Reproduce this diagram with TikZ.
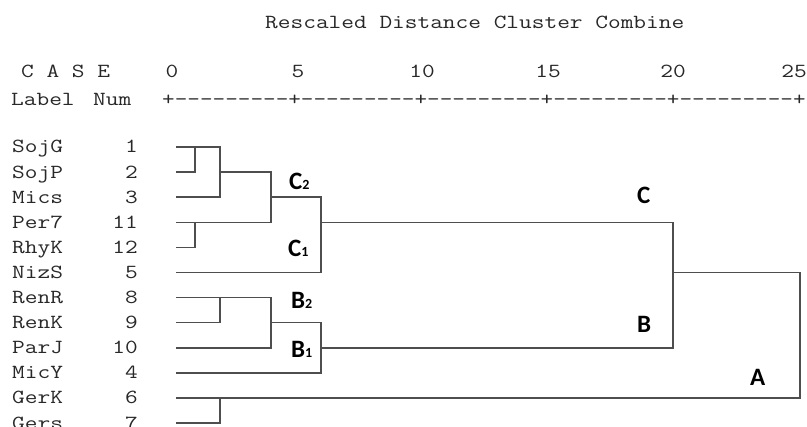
\documentclass[tikz,border=0pt]{standalone}
\usepackage{fontspec}
\usepackage{graphicx}
\newfontfamily\labf{Carlito}
\definecolor{linegray}{RGB}{78,78,78}
\definecolor{txtgray}{RGB}{40,40,40}
\newcommand\mt[1]{\scalebox{1.233}[1]{#1}}
\newcommand\mta[1]{\scalebox{1.225}[1]{#1}}
\newcommand\sbs[1]{{\fontsize{14}{15}\selectfont #1}}
\tikzset{
  mono/.style={font=\ttfamily\fontsize{20}{22}\selectfont, text=txtgray, inner sep=0pt},
  lbl/.style={mono, anchor=base west},
  numlbl/.style={mono, anchor=base east},
  ticklbl/.style={mono, anchor=base},
  clus/.style={font=\labf\bfseries\fontsize{25}{28}\selectfont, text=black, anchor=base west, inner sep=0pt},
  tree/.style={draw=linegray, line width=1.5pt, line cap=rect}
}
\begin{document}
\begin{tikzpicture}[x=1pt,y=-1pt]
\useasboundingbox[fill=white] (0,0) rectangle (807,427);
% header
\node[lbl] (title) at (265,29) {\mt{Rescaled Distance Cluster Combine}};
\node[lbl] (case) at (21,78) {\mt{C A S E}};
\node[lbl] (label) at (11,106) {\mt{Label}};
\node[lbl] (num) at (93,106) {\mt{Num}};
\node[lbl] (axis) at (162,106) {\mta{+{-}{-}{-}{-}{-}{-}{-}{-}{-}+{-}{-}{-}{-}{-}{-}{-}{-}{-}+{-}{-}{-}{-}{-}{-}{-}{-}{-}+{-}{-}{-}{-}{-}{-}{-}{-}{-}+{-}{-}{-}{-}{-}{-}{-}{-}{-}+}};
\node[ticklbl] (t0) at (172,78) {\mt{0}};
\node[ticklbl] (t5) at (298,78) {\mt{5}};
\node[ticklbl] (t10) at (422,78) {\mt{10}};
\node[ticklbl] (t15) at (548,78) {\mt{15}};
\node[ticklbl] (t20) at (673,78) {\mt{20}};
\node[ticklbl] (t25) at (794,78) {\mt{25}};
% leaves
\foreach \k/\lab/\n in {0/SojG/1,1/SojP/2,2/Mics/3,3/Per7/11,4/RhyK/12,5/NizS/5,6/RenR/8,7/RenK/9,8/ParJ/10,9/MicY/4,10/GerK/6,11/Gers/7}{
  \node[lbl] (L\k) at (12,{147+25.1*\k+6}) {\mt{\lab}};
  \node[numlbl] (N\k) at (138,{147+25.1*\k+6}) {\mt{\n}};
  \coordinate (s\k) at (177,{147+25.1*\k});
}
% join levels
\coordinate (d1) at (195,0);
\coordinate (d2) at (220,0);
\coordinate (d4) at (271,0);
\coordinate (d6) at (321,0);
\coordinate (d20) at (673,0);
\coordinate (d25) at (800,0);
% tree
\draw[tree] (s0) -- (s0-|d2) -- (s2-|d2) -- (s2);
\draw[tree] (s1) -- (s1-|d1) -- (s0-|d1);
\draw[tree] (s1-|d2) -- (s1-|d4) -- (s3-|d4) -- (s3);
\draw[tree] (s4) -- (s4-|d1) -- (s3-|d1);
\draw[tree] (s2-|d4) -- (s2-|d6) -- (s5-|d6) -- (s5);
\draw[tree] (s3-|d6) -- (s3-|d20) -- (s8-|d20) -- (s8-|d6);
\draw[tree] (s6) -- (s6-|d4) -- (s8-|d4) -- (s8);
\draw[tree] (s7) -- (s7-|d2) -- (s6-|d2);
\draw[tree] (s7-|d4) -- (s7-|d6) -- (s9-|d6) -- (s9);
\draw[tree] (s5-|d20) -- (s5-|d25) -- (s10-|d25) -- (s10);
\draw[tree] (s11) -- (s11-|d2) -- (s10-|d2);
% cluster labels
\node[clus] (C2) at (289,190) {C\sbs{2}};
\node[clus] (C1) at (288,257) {C\sbs{1}};
\node[clus] (B2) at (291,309) {B\sbs{2}};
\node[clus] (B1) at (291,358) {B\sbs{1}};
\node[clus] (C) at (637,204) {C};
\node[clus] (B) at (637,333) {B};
\node[clus] (A) at (750,386) {A};
\end{tikzpicture}
\end{document}
